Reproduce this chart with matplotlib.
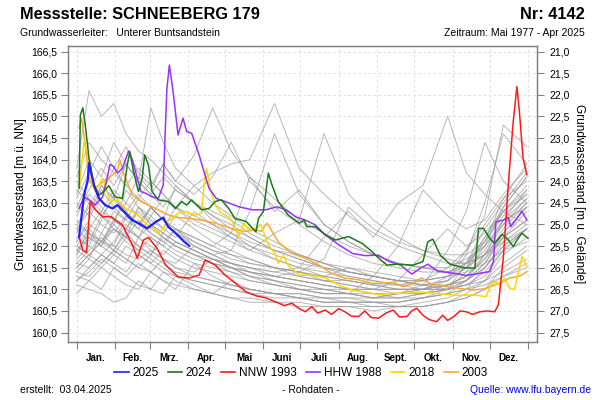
import matplotlib
matplotlib.use('Agg')
import matplotlib.pyplot as plt
from matplotlib.lines import Line2D
from matplotlib.ticker import FixedLocator, FuncFormatter

plt.rcParams['font.family'] = ['Liberation Sans', 'DejaVu Sans']

# month boundaries (day of year) and labels
month_starts = [0, 31, 59, 90, 120, 151, 181, 212, 243, 273, 304, 334, 365]
month_names = ['Jan.', 'Feb.', 'Mrz.', 'Apr.', 'Mai', 'Juni', 'Juli', 'Aug.',
               'Sept.', 'Okt.', 'Nov.', 'Dez.']

# grey background years (common day grid)
grey_days = [0, 10, 20, 30, 40, 50, 60, 70, 80, 95, 110, 125, 140, 160, 180,
             200, 220, 240, 260, 280, 300, 315, 330, 345, 364]
grey_levels = [
    [163.8, 165.6, 165.0, 165.3, 164.6, 164.2, 164.0, 163.7, 163.4, 163.0, 162.7, 162.5, 162.2, 161.9, 161.7, 161.5, 161.3, 161.2, 161.1, 161.1, 161.0, 161.2, 161.6, 162.3, 162.9],
    [162.5, 162.9, 163.4, 163.1, 163.9, 163.5, 165.2, 164.4, 163.8, 163.4, 163.0, 162.7, 162.4, 162.1, 161.8, 161.6, 161.4, 161.3, 161.2, 161.1, 161.2, 161.5, 162.2, 162.8, 163.4],
    [162.0, 162.4, 162.8, 163.3, 163.0, 163.6, 163.3, 163.9, 163.5, 164.1, 165.2, 164.2, 163.6, 163.1, 162.6, 162.3, 162.0, 161.8, 161.6, 161.5, 161.4, 161.6, 162.0, 162.6, 163.1],
    [161.8, 162.2, 162.0, 162.6, 162.4, 162.9, 162.7, 163.1, 162.9, 163.4, 163.7, 163.9, 164.0, 165.3, 163.8, 163.2, 162.7, 162.3, 162.0, 161.8, 161.6, 161.6, 161.8, 162.1, 162.5],
    [161.6, 161.9, 162.2, 161.9, 162.4, 162.2, 162.7, 162.4, 162.9, 162.5, 162.3, 162.1, 161.9, 162.3, 162.6, 164.6, 163.2, 162.6, 162.2, 161.9, 161.7, 161.6, 161.8, 162.2, 162.6],
    [161.5, 161.8, 162.1, 162.4, 162.2, 162.6, 162.3, 162.1, 162.4, 162.0, 161.8, 161.6, 161.5, 161.4, 161.5, 162.2, 162.8, 162.2, 163.0, 163.4, 165.0, 163.7, 163.2, 162.8, 162.5],
    [161.2, 161.5, 161.8, 161.6, 162.0, 161.8, 161.6, 161.9, 161.7, 161.5, 161.4, 161.3, 161.2, 161.1, 161.0, 160.9, 160.9, 160.8, 160.9, 161.0, 161.3, 161.9, 162.7, 164.8, 164.3],
    [161.9, 162.3, 162.1, 162.6, 162.4, 162.2, 162.5, 162.3, 162.1, 161.9, 161.7, 161.6, 161.4, 161.3, 161.2, 161.1, 161.0, 161.0, 160.9, 161.0, 161.2, 161.8, 163.0, 164.6, 163.9],
    [162.8, 163.3, 163.8, 163.4, 163.9, 163.5, 163.2, 163.6, 163.3, 163.0, 162.8, 162.6, 162.3, 162.0, 161.8, 161.6, 161.4, 161.3, 161.2, 161.1, 161.1, 161.3, 161.7, 162.4, 163.0],
    [163.2, 164.0, 163.6, 164.4, 163.9, 163.5, 163.2, 162.9, 163.3, 163.0, 162.6, 162.3, 162.0, 161.7, 161.5, 161.3, 161.2, 161.1, 161.0, 161.0, 161.1, 161.2, 161.5, 162.0, 162.4],
    [161.4, 161.7, 162.3, 162.0, 162.7, 162.5, 162.9, 162.6, 163.4, 163.0, 162.7, 162.4, 162.2, 161.9, 161.7, 161.5, 161.4, 161.3, 161.2, 161.2, 161.3, 161.5, 161.9, 162.6, 163.3],
    [162.2, 162.0, 162.6, 163.2, 162.8, 162.5, 162.3, 162.1, 161.9, 161.7, 161.6, 161.5, 161.3, 161.2, 161.1, 161.0, 160.9, 160.9, 160.8, 160.8, 160.9, 161.0, 161.1, 161.3, 161.6],
    [161.1, 161.0, 160.9, 160.7, 160.8, 161.2, 161.0, 160.9, 161.3, 161.1, 160.9, 160.8, 160.7, 160.7, 160.6, 160.6, 160.6, 160.5, 160.6, 160.6, 160.7, 160.8, 161.0, 161.3, 161.5],
    [161.3, 161.2, 161.5, 161.3, 161.1, 161.0, 161.4, 161.2, 161.0, 161.6, 161.3, 161.1, 161.0, 160.9, 160.8, 160.8, 160.7, 160.7, 160.7, 160.8, 160.9, 161.0, 161.2, 161.6, 162.0],
    [161.8, 162.4, 162.1, 161.9, 162.3, 162.0, 161.8, 162.2, 162.0, 161.8, 161.6, 161.4, 161.3, 161.1, 161.0, 160.9, 160.9, 160.8, 160.8, 160.9, 161.0, 161.4, 162.0, 162.9, 163.6],
    [162.6, 162.3, 162.0, 161.8, 161.6, 162.2, 161.9, 161.7, 161.5, 161.4, 161.7, 161.5, 161.3, 161.2, 161.0, 160.9, 160.9, 160.8, 160.8, 160.9, 161.1, 161.3, 161.7, 162.2, 162.6],
    [163.5, 163.1, 162.8, 162.6, 163.0, 162.7, 162.4, 162.2, 162.0, 161.8, 161.6, 161.5, 161.4, 161.3, 161.4, 161.3, 161.2, 161.1, 161.1, 161.0, 161.0, 161.1, 161.4, 161.9, 162.4],
    [162.1, 162.5, 162.3, 162.8, 162.6, 163.1, 162.9, 162.6, 162.4, 162.2, 162.0, 162.3, 163.6, 162.8, 163.3, 162.5, 162.1, 161.8, 161.6, 161.5, 161.4, 161.5, 161.8, 162.3, 162.9],
    [161.6, 161.5, 161.8, 161.6, 161.4, 161.8, 161.6, 161.4, 161.3, 161.2, 161.1, 161.0, 160.9, 160.9, 160.8, 160.7, 160.7, 160.7, 160.6, 160.7, 160.8, 161.0, 161.5, 162.1, 162.4],
    [161.9, 162.2, 162.0, 162.4, 162.1, 161.9, 162.2, 162.0, 161.8, 161.6, 161.5, 161.4, 161.2, 161.1, 161.0, 161.0, 160.9, 161.3, 162.0, 163.3, 162.7, 162.4, 162.6, 163.2, 163.8],
    [162.4, 162.8, 162.5, 162.3, 162.7, 162.4, 162.2, 162.0, 162.4, 162.1, 161.9, 161.7, 161.6, 161.5, 161.4, 161.7, 162.9, 162.4, 162.1, 161.9, 161.8, 161.8, 162.1, 162.7, 163.2],
    [163.0, 162.7, 163.4, 163.1, 162.8, 163.2, 162.9, 162.6, 162.4, 162.2, 162.0, 161.8, 161.7, 161.5, 161.4, 161.2, 161.1, 161.0, 161.0, 161.0, 161.1, 161.2, 161.6, 162.2, 162.8],
    [160.9, 161.2, 161.0, 161.5, 161.3, 161.1, 161.0, 161.4, 161.2, 161.0, 160.9, 160.8, 160.8, 160.7, 160.7, 160.6, 160.6, 160.6, 160.6, 160.6, 160.7, 160.9, 161.2, 161.8, 162.2],
    [162.3, 163.0, 162.7, 162.5, 163.3, 162.9, 162.6, 162.4, 162.2, 162.8, 162.5, 162.2, 162.0, 161.8, 161.6, 161.5, 161.4, 161.3, 161.2, 161.2, 161.3, 161.6, 162.2, 162.9, 163.6],
    [161.5, 161.8, 161.6, 161.9, 161.7, 161.5, 161.8, 161.6, 161.4, 161.3, 161.2, 161.1, 161.0, 160.9, 160.9, 160.8, 160.8, 160.8, 160.9, 161.1, 161.9, 162.8, 164.4, 163.5, 163.0],
    [161.2, 161.4, 161.7, 161.5, 161.3, 161.6, 161.4, 161.2, 161.1, 161.0, 160.9, 161.2, 161.0, 160.9, 160.8, 160.7, 160.7, 160.6, 160.6, 160.6, 160.7, 160.8, 161.0, 161.5, 161.9],
    [163.6, 164.4, 164.0, 163.7, 163.4, 163.8, 163.5, 163.2, 162.9, 162.6, 162.4, 162.2, 161.9, 161.7, 161.5, 161.4, 161.3, 161.2, 161.1, 161.2, 161.5, 161.9, 162.5, 163.1, 163.9],
    [162.0, 161.8, 162.1, 162.5, 162.2, 162.0, 161.8, 162.3, 162.1, 161.9, 161.7, 161.5, 161.4, 161.2, 161.1, 161.0, 161.0, 160.9, 160.9, 160.9, 161.0, 161.1, 161.3, 161.9, 162.4],
    [162.9, 163.5, 163.2, 163.8, 164.3, 163.7, 163.4, 163.9, 163.5, 163.2, 163.6, 164.4, 163.5, 162.9, 162.5, 162.1, 161.8, 161.6, 161.5, 161.4, 161.4, 161.6, 162.1, 162.8, 163.3],
    [162.4, 162.1, 162.7, 162.4, 162.2, 162.9, 162.5, 162.3, 162.7, 162.4, 162.1, 161.9, 162.8, 164.6, 163.2, 162.5, 162.1, 161.8, 161.6, 161.5, 161.5, 161.7, 162.0, 162.5, 163.0],
    [161.7, 162.0, 161.8, 162.1, 162.5, 162.2, 162.0, 161.8, 162.1, 161.9, 161.7, 161.5, 161.4, 161.3, 161.2, 161.1, 161.0, 161.0, 161.2, 161.8, 162.4, 162.0, 162.3, 162.8, 163.2],
    [163.3, 163.0, 162.7, 163.1, 162.8, 162.5, 162.9, 162.6, 162.3, 162.1, 161.9, 161.8, 161.6, 161.5, 161.3, 161.2, 161.1, 161.0, 161.0, 161.0, 161.1, 161.3, 161.8, 162.5, 163.1],
    [162.7, 163.2, 162.9, 162.6, 162.4, 162.8, 162.5, 162.2, 162.0, 161.8, 161.7, 161.6, 161.5, 161.4, 161.3, 161.2, 161.2, 161.1, 161.0, 161.0, 161.0, 161.1, 161.2, 161.4, 161.7],
    [161.4, 161.3, 161.6, 161.9, 161.7, 161.5, 161.4, 161.7, 161.5, 161.3, 161.2, 161.1, 161.0, 160.9, 160.9, 160.8, 160.8, 160.7, 160.7, 160.8, 160.9, 161.2, 161.8, 162.6, 162.9],
    [162.1, 162.6, 163.3, 162.9, 162.6, 162.4, 162.9, 162.6, 162.3, 162.0, 161.8, 161.9, 161.7, 161.5, 161.4, 161.3, 161.5, 161.3, 161.2, 161.1, 161.2, 161.5, 162.1, 163.1, 163.5],
    [161.9, 161.7, 161.5, 161.8, 162.2, 161.9, 161.7, 161.5, 161.3, 161.2, 161.1, 161.0, 160.9, 160.8, 160.8, 160.7, 160.7, 160.7, 160.7, 160.8, 161.0, 161.6, 162.4, 163.0, 163.7],
    [163.1, 163.7, 164.3, 163.8, 163.4, 163.1, 163.5, 163.2, 162.9, 162.7, 162.5, 162.3, 162.1, 161.9, 161.8, 161.6, 161.5, 161.4, 161.3, 161.2, 161.3, 161.4, 161.6, 161.9, 162.1],
    [162.5, 162.3, 162.1, 162.0, 161.8, 161.7, 161.9, 161.7, 161.6, 162.0, 161.8, 161.6, 161.5, 161.3, 161.2, 161.1, 161.0, 160.9, 160.9, 160.9, 161.0, 161.2, 161.5, 162.0, 162.4],
]

# highlighted years
days_2025 = [2, 6, 9, 10, 14, 18, 23, 29, 33, 38, 45, 50, 57, 64, 70, 74, 80, 87, 91]
vals_2025 = [162.22, 163.18, 163.53, 163.92, 163.41, 163.11, 162.95, 162.87, 162.95, 162.80,
             162.60, 162.53, 162.41, 162.56, 162.66, 162.45, 162.30, 162.10, 162.01]

days_2024 = [2, 3, 5, 7, 10, 14, 18, 22, 26, 31, 37, 41, 43, 46, 50, 53, 55, 58, 61, 66,
             74, 80, 85, 89, 93, 97, 101, 107, 112, 117, 123, 128, 137, 145, 147, 151, 155,
             158, 163, 171, 180, 184, 186, 193, 201, 209, 220, 231, 239, 245, 251, 259, 272,
             280, 284, 288, 294, 302, 313, 322, 325, 329, 334, 338, 344, 348, 353, 357, 360, 365]
vals_2024 = [163.34, 165.03, 165.20, 164.80, 164.03, 163.41, 163.18, 163.26, 163.40, 163.14,
             163.10, 163.88, 164.19, 163.72, 163.26, 163.57, 164.11, 163.88, 163.26, 163.07,
             163.03, 162.87, 163.03, 162.95, 163.07, 162.95, 162.84, 162.87, 163.03, 163.07,
             162.87, 162.64, 162.57, 162.33, 162.64, 162.80, 163.69, 163.41, 163.03, 162.72,
             162.53, 162.60, 162.45, 162.45, 162.26, 162.14, 162.22, 162.06, 161.87, 161.70,
             161.56, 161.58, 161.56, 161.64, 162.10, 162.16, 161.79, 161.58, 161.50, 161.49,
             162.41, 162.41, 162.18, 162.06, 162.27, 162.18, 161.99, 162.18, 162.30, 162.18]

days_nnw = [2, 5, 8, 11, 15, 21, 28, 37, 45, 49, 54, 58, 65, 72, 82, 91, 99, 104, 112, 120,
            128, 137, 145, 153, 161, 168, 174, 180, 185, 190, 195, 201, 206, 212, 217, 222,
            228, 233, 238, 244, 250, 256, 261, 267, 271, 275, 280, 285, 291, 296, 300, 305,
            310, 315, 320, 326, 332, 338, 341, 345, 349, 353, 356, 358, 361, 364]
vals_nnw = [162.22, 161.90, 161.85, 163.03, 162.85, 162.68, 162.68, 162.49, 162.03, 161.72,
            162.14, 162.20, 161.95, 161.56, 161.29, 161.26, 161.33, 161.68, 161.56, 161.33,
            161.15, 160.94, 160.85, 160.80, 160.71, 160.62, 160.68, 160.55, 160.48, 160.60,
            160.45, 160.52, 160.42, 160.55, 160.48, 160.38, 160.37, 160.50, 160.35, 160.33,
            160.45, 160.52, 160.36, 160.37, 160.50, 160.56, 160.40, 160.30, 160.25, 160.40,
            160.28, 160.37, 160.50, 160.48, 160.42, 160.48, 160.50, 160.48, 160.64, 161.72,
            163.41, 164.88, 165.69, 165.11, 164.03, 163.65]

days_hhw = [2, 6, 10, 15, 21, 24, 27, 30, 33, 37, 42, 45, 49, 52, 56, 61, 66, 70, 73, 75,
            78, 82, 86, 89, 93, 99, 103, 107, 113, 120, 131, 142, 153, 162, 169, 177, 185,
            193, 201, 212, 223, 233, 244, 253, 262, 271, 278, 284, 292, 305, 315, 326, 334,
            337, 339, 345, 349, 351, 356, 360, 364]
vals_hhw = [162.87, 163.14, 163.07, 162.95, 163.14, 163.49, 163.89, 163.84, 163.69, 163.80,
            164.20, 164.00, 163.57, 163.26, 163.22, 163.14, 163.10, 163.41, 165.65, 166.19,
            165.57, 164.57, 164.96, 164.65, 164.61, 164.11, 163.72, 163.34, 163.10, 163.03,
            162.91, 162.84, 162.84, 162.91, 162.84, 162.68, 162.60, 162.49, 162.26, 162.03,
            161.83, 161.78, 161.79, 161.64, 161.56, 161.35, 161.49, 161.58, 161.42, 161.37,
            161.32, 161.37, 161.41, 161.64, 162.56, 162.60, 162.66, 162.45, 162.64, 162.81, 162.60]

days_2018 = [2, 5, 6, 9, 11, 15, 18, 21, 23, 27, 33, 38, 44, 50, 57, 62, 66, 70, 73, 77,
             82, 88, 96, 101, 103, 105, 108, 112, 117, 123, 126, 131, 135, 139, 145, 149,
             155, 161, 163, 167, 171, 180, 190, 201, 212, 223, 233, 244, 256, 267, 278, 288,
             299, 310, 321, 331, 335, 338, 342, 346, 350, 354, 358, 360, 364]
vals_2018 = [163.34, 164.11, 164.42, 164.11, 163.57, 163.26, 163.41, 163.57, 163.41, 163.03,
             163.07, 162.91, 162.80, 162.72, 162.49, 162.41, 162.30, 162.41, 162.56, 162.64,
             162.76, 162.80, 162.72, 162.76, 163.41, 163.80, 163.34, 162.95, 162.76, 162.68,
             162.56, 162.22, 162.53, 162.38, 162.41, 162.49, 162.03, 161.80, 161.60, 161.79,
             161.56, 161.33, 161.33, 161.26, 161.10, 160.98, 160.94, 160.88, 160.91, 160.91,
             160.94, 160.91, 160.88, 160.86, 160.87, 160.83, 161.10, 161.18, 161.10, 161.26,
             161.03, 161.00, 161.49, 161.76, 161.53]

days_2003 = [2, 4, 7, 10, 14, 18, 23, 29, 33, 35, 38, 45, 52, 58, 66, 74, 82, 91, 101, 112,
             123, 128, 137, 145, 149, 154, 158, 163, 174, 185, 196, 206, 217, 228, 239, 245,
             256, 264, 272, 279, 285, 292, 299, 310, 321, 331, 338, 345, 350, 356, 360, 364]
vals_2003 = [164.73, 164.96, 164.34, 163.57, 163.34, 163.41, 163.53, 163.64, 163.76, 164.00,
             163.68, 163.18, 163.03, 162.95, 162.84, 162.72, 162.66, 162.64, 162.60, 162.53,
             162.43, 162.38, 162.34, 162.38, 162.34, 162.53, 162.34, 162.10, 161.83, 161.72,
             161.56, 161.37, 161.26, 161.22, 161.14, 161.14, 161.16, 161.06, 161.14, 161.26,
             161.14, 161.10, 161.06, 161.02, 160.98, 161.02, 161.10, 161.18, 161.26, 161.29,
             161.33, 161.41]

ground_level = 187.5  # m ü. NN, used for the right axis (depth below ground)

c_2025 = '#1f1fff'
c_2024 = '#1a7a1a'
c_nnw = '#ff1a1a'
c_hhw = '#9b30ff'
c_2018 = '#ffd700'
c_2003 = '#ffa733'

fig = plt.figure(figsize=(6, 4), dpi=100)
ax = fig.add_axes([0.1133, 0.146, 0.7812, 0.739])

for lv in grey_levels:
    ax.plot(grey_days, lv, color='#9a9a9a', lw=0.7, alpha=0.7, zorder=2)

ax.plot(days_2003, vals_2003, color=c_2003, lw=1.1, zorder=3)
ax.plot(days_2018, vals_2018, color=c_2018, lw=1.1, zorder=3)
ax.plot(days_hhw, vals_hhw, color=c_hhw, lw=1.1, zorder=4)
ax.plot(days_nnw, vals_nnw, color=c_nnw, lw=1.1, zorder=4)
ax.plot(days_2024, vals_2024, color=c_2024, lw=1.1, zorder=5)
ax.plot(days_2025, vals_2025, color=c_2025, lw=1.6, zorder=6)

ylo, yhi = 159.79, 166.63
ax.set_xlim(-7, 372)
ax.set_ylim(ylo, yhi)

comma = FuncFormatter(lambda v, p: f'{v:.1f}'.replace('.', ','))
ax.yaxis.set_major_locator(FixedLocator([160 + 0.5 * i for i in range(14)]))
ax.yaxis.set_major_formatter(comma)
ax.set_xticks(month_starts)
ax.set_xticklabels([])
mids = [(month_starts[i] + month_starts[i + 1]) / 2 for i in range(12)]
ax.set_xticks(mids, minor=True)
ax.set_xticklabels(month_names, minor=True, fontsize=7, fontweight='bold')
ax.tick_params(axis='x', which='minor', length=0, pad=8)
ax.tick_params(axis='x', which='major', length=5, color='#808080', direction='out')
ax.tick_params(axis='y', labelsize=7.5, length=5, color='#808080', direction='out', pad=3)

ax.grid(True, which='major', color='#d9d9d9', lw=0.6, ls=(0, (3, 3)))
ax.set_axisbelow(True)
for s in ax.spines.values():
    s.set_color('#808080')
    s.set_linewidth(1.0)
ax.set_ylabel('Grundwasserstand [m ü. NN]', fontsize=8.5, labelpad=3)

ax2 = ax.twinx()
ax2.set_ylim(ground_level - ylo, ground_level - yhi)
ax2.yaxis.set_major_locator(FixedLocator([21 + 0.5 * i for i in range(14)]))
ax2.yaxis.set_major_formatter(comma)
ax2.tick_params(axis='y', labelsize=7.5, length=5, color='#808080', direction='out', pad=4)
for s in ax2.spines.values():
    s.set_color('#808080')
ax2.set_ylabel('Grundwasserstand [m u. Gelände]', fontsize=8.5, rotation=270, labelpad=11)

fig.text(0.033, 0.963, 'Messstelle: SCHNEEBERG 179', fontsize=11.8, fontweight='bold', va='center')
fig.text(0.975, 0.963, 'Nr: 4142', fontsize=11.8, fontweight='bold', va='center', ha='right')
fig.text(0.033, 0.917, 'Grundwasserleiter:   Unterer Buntsandstein', fontsize=7.5, va='center')
fig.text(0.975, 0.917, 'Zeitraum: Mai 1977 - Apr 2025', fontsize=7.5, va='center', ha='right')

handles = [Line2D([], [], color=c, lw=1.2) for c in (c_2025, c_2024, c_nnw, c_hhw, c_2018, c_2003)]
labels = ['2025', '2024', 'NNW 1993', 'HHW 1988', '2018', '2003']
fig.legend(handles, labels, loc='center', bbox_to_anchor=(0.502, 0.068), ncol=6,
           frameon=False, fontsize=8.5, handlelength=1.2, handletextpad=0.3,
           columnspacing=0.8)

fig.text(0.033, 0.025, 'erstellt:  03.04.2025', fontsize=7.5, va='center')
fig.text(0.518, 0.025, '- Rohdaten -', fontsize=7.5, va='center', ha='center')
fig.text(0.985, 0.025, 'Quelle: www.lfu.bayern.de', fontsize=7.5, va='center', ha='right',
         color='#0000ff')

fig.savefig('out.png', dpi=100)
